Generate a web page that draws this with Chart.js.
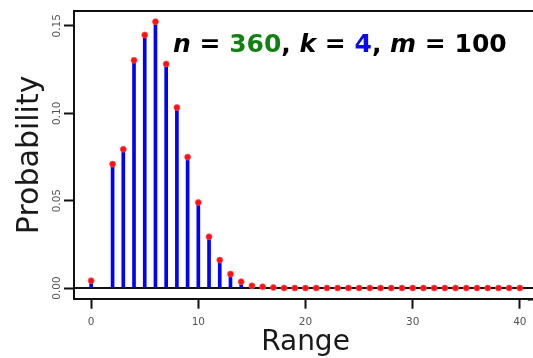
<!DOCTYPE html>
<html lang="en">
<head>
    <meta charset="UTF-8">
    <title>Range distribution</title>
    <script src="https://cdn.jsdelivr.net/npm/chart.js"></script>
    <style>
        html, body {
            margin: 0;
            padding: 0;
            background: #fff;
            overflow: hidden;
        }
        #wrap {
            width: 533px;
            height: 358px;
            overflow: hidden;
        }
    </style>
</head>
<body>
    <div id="wrap">
        <canvas id="rangeChart" width="580" height="358"></canvas>
    </div>

    <script>
        // values
        const rangeValues = [0, 1, 2, 3, 4, 5, 6, 7, 8, 9, 10, 11, 12, 13, 14, 15, 16, 17, 18, 19, 20,
            21, 22, 23, 24, 25, 26, 27, 28, 29, 30, 31, 32, 33, 34, 35, 36, 37, 38, 39, 40];
        const probabilities = [0.0042, null, 0.0709, 0.0794, 0.1303, 0.1448, 0.1524, 0.1282, 0.1033, 0.0749,
            0.0490, 0.0293, 0.0160, 0.0080, 0.0036, 0.0013, 0.0007, 0.0003, 0, 0, 0,
            0, 0, 0, 0, 0, 0, 0, 0, 0, 0, 0, 0, 0, 0, 0, 0, 0, 0, 0, 0];
        const xTicks = [0, 10, 20, 30, 40];
        const yTicks = [0, 0.05, 0.10, 0.15];
        const caption = [
            { text: 'n', color: '#000', italic: true },
            { text: ' = ', color: '#000' },
            { text: '360', color: '#138013' },
            { text: ', ', color: '#000' },
            { text: 'k', color: '#000', italic: true },
            { text: ' = ', color: '#000' },
            { text: '4', color: '#0a0aee' },
            { text: ', ', color: '#000' },
            { text: 'm', color: '#000', italic: true },
            { text: ' = 100', color: '#000' }
        ];

        const points = rangeValues.map((x, i) => ({ x: x, y: probabilities[i] }));

        function hLine(ctx, x1, x2, y) {
            ctx.beginPath();
            ctx.moveTo(x1, y);
            ctx.lineTo(x2, y);
            ctx.stroke();
        }

        // box top edge, zero line and caption; the box is open on the right
        const extras = {
            id: 'extras',
            beforeDatasetsDraw(chart) {
                const { ctx, chartArea, scales } = chart;
                ctx.save();
                ctx.strokeStyle = '#111';
                ctx.lineWidth = 2;
                hLine(ctx, chartArea.left, chartArea.right + 30, scales.y.getPixelForValue(0));
                hLine(ctx, chartArea.left - 1, chartArea.right + 30, chartArea.top);
                ctx.restore();
            },
            afterDraw(chart) {
                const { ctx, chartArea, scales } = chart;
                ctx.save();
                // nothing should show past the last point on the right
                const edge = scales.x.getPixelForValue(40) + 9;
                ctx.fillStyle = '#fff';
                ctx.fillRect(edge, chartArea.top + 2, chart.width - edge, chartArea.bottom - chartArea.top - 3);
                ctx.strokeStyle = '#111';
                ctx.lineWidth = 2;
                hLine(ctx, edge - 1, chart.width, scales.y.getPixelForValue(0));
                hLine(ctx, edge - 1, chart.width, chartArea.bottom + 1);
                ctx.fillRect(edge, chartArea.bottom + 2, chart.width - edge, 4);

                ctx.textBaseline = 'alphabetic';
                let x = 173;
                caption.forEach(part => {
                    ctx.font = (part.italic ? 'italic ' : '') + "bold 25px 'DejaVu Sans'";
                    ctx.fillStyle = part.color;
                    ctx.fillText(part.text, x, 52);
                    x += ctx.measureText(part.text).width;
                });
                ctx.restore();
            }
        };

        new Chart(document.getElementById('rangeChart'), {
            data: {
                datasets: [{
                    type: 'scatter',
                    data: points,
                    pointRadius: 3,
                    pointBackgroundColor: '#ff1010',
                    pointBorderColor: 'rgba(255, 80, 90, 0.7)',
                    pointBorderWidth: 1,
                    order: 1
                }, {
                    type: 'bar',
                    data: points,
                    backgroundColor: '#0000ff',
                    barThickness: 3,
                    order: 2
                }]
            },
            options: {
                responsive: false,
                animation: false,
                layout: { padding: { top: 11, right: 43, left: 0, bottom: 0 } },
                plugins: {
                    legend: { display: false },
                    tooltip: { enabled: false }
                },
                scales: {
                    x: {
                        type: 'linear',
                        min: -1.6,
                        max: 41.6,
                        offset: false,
                        afterBuildTicks: scale => { scale.ticks = xTicks.map(v => ({ value: v })); },
                        afterFit: scale => { scale.height = 59.3; },
                        grid: {
                            offset: false,
                            drawOnChartArea: false,
                            drawTicks: true,
                            tickLength: 10,
                            tickColor: '#111',
                            tickWidth: 2
                        },
                        border: { display: true, color: '#111', width: 2 },
                        ticks: {
                            maxRotation: 0,
                            padding: 7,
                            color: '#555',
                            font: { family: 'DejaVu Sans', size: 10.5 }
                        },
                        title: {
                            display: true,
                            text: 'Range',
                            color: '#1a1a1a',
                            font: { family: 'DejaVu Sans', size: 28, lineHeight: 1 },
                            padding: { top: 0, bottom: 1 }
                        }
                    },
                    y: {
                        min: -0.0061,
                        max: 0.1585,
                        afterBuildTicks: scale => { scale.ticks = yTicks.map(v => ({ value: v })); },
                        afterFit: scale => { scale.width = 74; },
                        grid: {
                            drawOnChartArea: false,
                            drawTicks: true,
                            tickLength: 10,
                            tickColor: '#111',
                            tickWidth: 2
                        },
                        border: { display: true, color: '#111', width: 2 },
                        ticks: {
                            minRotation: 90,
                            maxRotation: 90,
                            crossAlign: 'center',
                            padding: -5,
                            color: '#555',
                            font: { family: 'DejaVu Sans', size: 10.5 },
                            callback: v => v.toFixed(2)
                        },
                        title: {
                            display: true,
                            text: 'Probability',
                            color: '#1a1a1a',
                            font: { family: 'DejaVu Sans', size: 30, lineHeight: 1 },
                            padding: { top: 15, bottom: 0 }
                        }
                    }
                }
            },
            plugins: [extras]
        });
    </script>
</body>
</html>
